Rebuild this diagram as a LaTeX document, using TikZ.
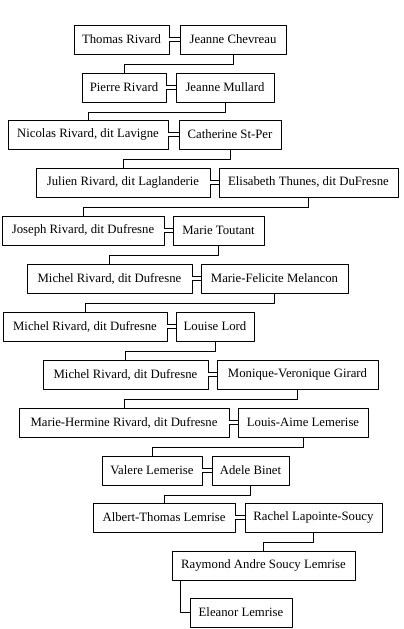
\documentclass[tikz,border=0pt]{standalone}
\usepackage{fontspec}
\setmainfont{Liberation Serif}
\begin{document}
\begin{tikzpicture}[x=1pt,y=-1pt,font=\fontsize{12.75}{15}\selectfont,line join=round,
	pers/.style={draw,line width=.9pt,inner sep=0pt,minimum height=29pt},
	wed/.style={double,double distance=2.2pt,line width=1pt},
	kid/.style={line width=.9pt}]
	\useasboundingbox (0,0) rectangle (404,629);
	% couples, one row per generation
	\node[pers,minimum width=95pt] (p1) at (121.5,39.5) {Thomas Rivard};
	\node[pers,minimum width=106pt] (s1) at (233,39.5) {Jeanne Chevreau};
	\node[pers,minimum width=84pt] (p2) at (124,87.5) {Pierre Rivard};
	\node[pers,minimum width=98pt] (s2) at (225,87.5) {Jeanne Mullard};
	\node[pers,minimum width=160pt] (p3) at (88,134.5) {Nicolas Rivard, dit Lavigne};
	\node[pers,minimum width=102pt] (s3) at (230,134.5) {Catherine St-Per};
	\node[pers,minimum width=174pt] (p4) at (123,182.5) {Julien Rivard, dit Laglanderie};
	\node[pers,minimum width=179pt] (s4) at (308.5,182.5) {Elisabeth Thunes, dit DuFresne};
	\node[pers,minimum width=162pt] (p5) at (83,230.5) {Joseph Rivard, dit Dufresne};
	\node[pers,minimum width=91pt] (s5) at (218.5,230.5) {Marie Toutant};
	\node[pers,minimum width=165pt] (p6) at (109.5,278.5) {Michel Rivard, dit Dufresne};
	\node[pers,minimum width=147pt] (s6) at (274.5,278.5) {Marie-Felicite Melancon};
	\node[pers,minimum width=164pt] (p7) at (85,326.5) {Michel Rivard, dit Dufresne};
	\node[pers,minimum width=78pt] (s7) at (215,326.5) {Louise Lord};
	\node[pers,minimum width=165pt] (p8) at (125.5,374.5) {Michel Rivard, dit Dufresne};
	\node[pers,minimum width=161pt] (s8) at (297.5,374.5) {Monique-Veronique Girard};
	\node[pers,minimum width=210pt] (p9) at (124,422.5) {Marie-Hermine Rivard, dit Dufresne};
	\node[pers,minimum width=130pt] (s9) at (303,422.5) {Louis-Aime Lemerise};
	\node[pers,minimum width=100pt] (p10) at (152,470.5) {Valere Lemerise};
	\node[pers,minimum width=77pt] (s10) at (250.5,470.5) {Adele Binet};
	\node[pers,minimum width=142pt] (p11) at (164,517.5) {Albert-Thomas Lemrise};
	\node[pers,minimum width=137pt] (s11) at (313.5,517.5) {Rachel Lapointe-Soucy};
	\node[pers,minimum width=183pt] (p12) at (263.5,565.5) {Raymond Andre Soucy Lemrise};
	\node[pers,minimum width=102pt] (p13) at (241,612.5) {Eleanor Lemrise};
	% marriages
	\foreach \i in {1,...,11}
		\draw[wed] (p\i.east) -- (s\i.west);
	% children
	\foreach \i [evaluate=\i as \j using int(\i+1)] in {1,...,11}
		\draw[kid] (s\i.south) -- ++(0,9.5) -| (p\j.north);
	\draw[kid] ([xshift=9pt]p12.south west) |- (p13.west);
\end{tikzpicture}
\end{document}
